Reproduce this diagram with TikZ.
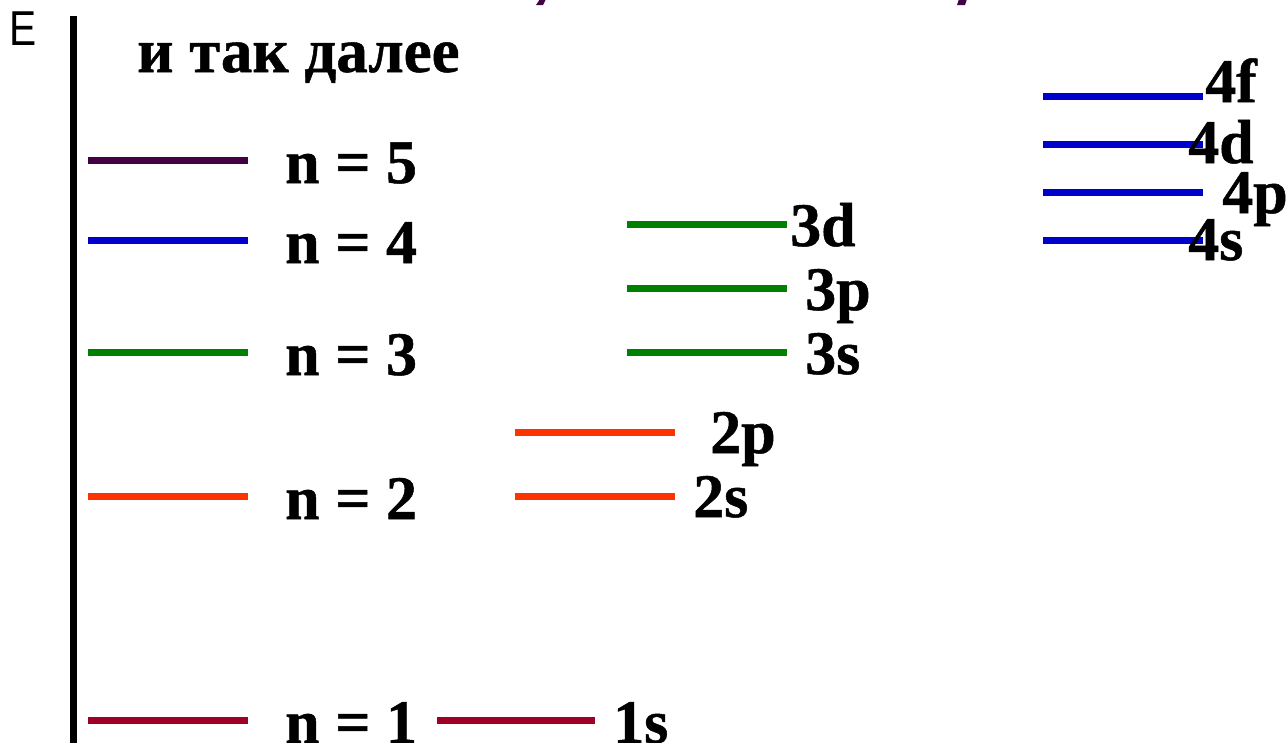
\documentclass[tikz,border=0pt]{standalone}
\usepackage{fontspec}
\setmainfont{Liberation Serif}
\newfontfamily\axisfont{Liberation Sans}
\newfontfamily\labfont[FakeBold=0.8]{Liberation Serif Bold}
\usetikzlibrary{positioning}
\definecolor{lvlfive}{HTML}{440044}
\definecolor{lvlfour}{HTML}{0000CC}
\definecolor{lvlthree}{HTML}{008000}
\definecolor{lvltwo}{HTML}{FF3300}
\definecolor{lvlone}{HTML}{A00025}
\begin{document}
\begin{tikzpicture}[x=1pt, y=-1pt,
  lvl/.style={line width=7pt},
  lab/.style={font=\labfont\fontsize{62}{62}\selectfont, inner sep=0pt, anchor=base west}
]
\useasboundingbox (0,0) rectangle (1288,742);
% energy axis
\coordinate (axtop) at (73,16);
\coordinate (axbot) at (73,750);
\draw[line width=7pt] (axtop) -- (axbot);
\node[font=\axisfont\fontsize{49}{49}\selectfont, inner sep=0pt, anchor=base west] (elab) at (9,45) {\scalebox{0.83}[1]{E}};
\node[lab, font=\labfont\fontsize{63}{63}\selectfont] (etc) at (137,72) {и так далее};
% cut-off marks at the top edge
\fill[lvlfive] (540,-1) -- (546,-1) -- (543,5) -- (536,5) -- cycle;
\fill[lvlfive] (959,-1) -- (967,-1) -- (965,5) -- (957,5) -- cycle;
% shells
\foreach \y/\c/\t [count=\i] in {720/lvlone/1, 496/lvltwo/2, 352/lvlthree/3, 240/lvlfour/4, 160/lvlfive/5} {
  \draw[lvl, \c] (88,\y) -- (248,\y);
  \node[lab] (n\i) at (285,\y+23) {n = \t};
}
% subshells
\draw[lvl, lvlone] (437,720) -- (595,720);
\node[lab] (s1) at (613,743) {1s};
\draw[lvl, lvltwo] (515,496) -- (675,496);
\node[lab] (s2) at (693,517) {2s};
\draw[lvl, lvltwo] (515,432) -- (675,432);
\node[lab] (p2) at (710,453) {2p};
\foreach \y/\x/\t in {352/805/3s, 288/805/3p, 224/790/3d} {
  \draw[lvl, lvlthree] (627,\y) -- (787,\y);
  \node[lab] at (\x,\y+22) {\t};
}
\foreach \y/\x/\b/\t in {240/1188/20/4s, 192/1222/21/4p, 144/1188/19/4d, 96/1205/6/4f} {
  \draw[lvl, lvlfour] (1043,\y) -- (1203,\y);
  \node[lab] at (\x,\y+\b) {\t};
}
\end{tikzpicture}
\end{document}
